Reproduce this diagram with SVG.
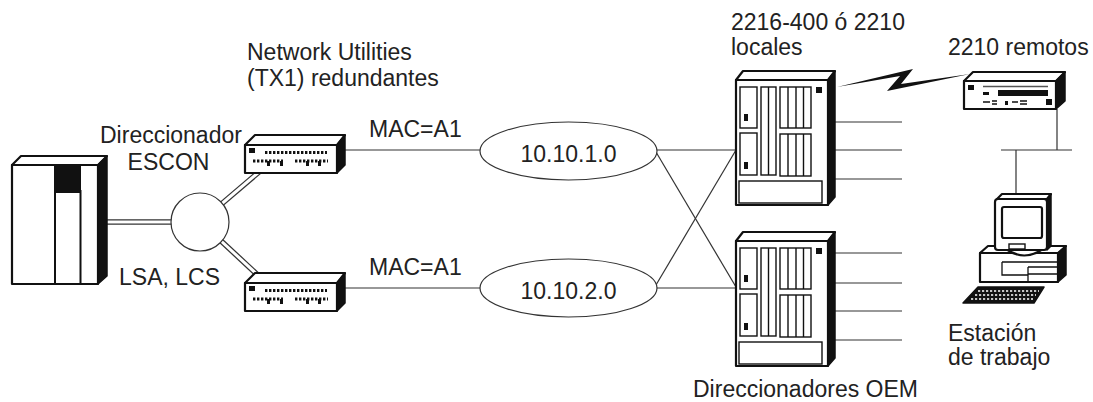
<svg xmlns="http://www.w3.org/2000/svg" xmlns:xlink="http://www.w3.org/1999/xlink" width="1093" height="402" viewBox="0 0 1093 402">
  <style>
    .t { font-family: "Liberation Sans", Arial, sans-serif; font-size: 23px; fill: #222; }
    .mid { text-anchor: middle; }
    .ln { stroke: #333; stroke-width: 1.2; fill: none; }
    .dblo { stroke: #333; stroke-width: 5.5; fill: none; }
    .dbli { stroke: #fff; stroke-width: 3; fill: none; }
    .box { fill: #fff; stroke: #111; stroke-width: 2.2; stroke-linejoin: round; }
    .thin { fill: #fff; stroke: #111; stroke-width: 1.4; }
    .dark { fill: #111; stroke: #111; stroke-width: 1.5; stroke-linejoin: round; }
    .blk { fill: #111; }
    .wh { fill: #fff; stroke: #333; stroke-width: 1.2; }
  </style>
  <defs>
    <!-- Network Utilities unit (drawn at the upper position) -->
    <g id="switchShape">
      <polygon class="box" points="245,145 255,135 345,135 337,145"/>
      <rect class="box" x="245" y="145" width="92" height="28"/>
      <polygon class="dark" points="337,145 345,135 345,165 337,173"/>
      <rect class="blk" x="249" y="148" width="6" height="5"/>
      <line x1="265" y1="152.5" x2="327" y2="152.5" stroke="#111" stroke-width="3" stroke-dasharray="2.4 1.6"/>
      <line x1="253" y1="161" x2="283" y2="161" stroke="#111" stroke-width="3" stroke-dasharray="2.4 1.6"/>
      <line x1="295" y1="161" x2="328" y2="161" stroke="#111" stroke-width="3" stroke-dasharray="2.4 1.6"/>
      <rect class="blk" x="267" y="161" width="3" height="5"/>
      <rect class="blk" x="280" y="161" width="3" height="5"/>
      <rect class="blk" x="306" y="161" width="3" height="5"/>
      <rect class="blk" x="318" y="161" width="3" height="5"/>
    </g>
    <!-- 2216 router cabinet (drawn at the upper position) -->
    <g id="routerShape">
      <polygon class="box" points="736,80 743,71 835,71 828,80"/>
      <rect class="box" x="736" y="80" width="92" height="125" stroke-width="2.6"/>
      <polygon class="dark" points="828,80 835,71 835,197 828,205"/>
      <rect class="thin" x="740" y="87" width="17" height="41"/>
      <rect class="thin" x="740" y="133" width="17" height="42"/>
      <rect class="blk" x="744" y="114" width="4" height="7"/>
      <rect class="blk" x="744" y="162" width="4" height="7"/>
      <rect class="thin" x="761" y="87" width="15" height="88"/>
      <line x1="768.5" y1="87" x2="768.5" y2="175" stroke="#111" stroke-width="1.4"/>
      <rect class="thin" x="780" y="87" width="31" height="41"/>
      <rect class="thin" x="780" y="134" width="31" height="42"/>
      <path d="M788,87V128M796,87V128M803.5,87V128M788,134V176M796,134V176M803.5,134V176" stroke="#111" stroke-width="1.4"/>
      <rect class="thin" x="739" y="181" width="83" height="22"/>
      <rect class="blk" x="816" y="87" width="6" height="6"/>
    </g>
  </defs>

  <!-- connectors -->
  <g id="connectors">
    <!-- host to ESCON director -->
    <line class="dblo" x1="105" y1="222" x2="190" y2="222"/>
    <line class="dbli" x1="105" y1="222" x2="190" y2="222"/>
    <!-- ESCON director to Network Utilities -->
    <line class="dblo" x1="205" y1="218" x2="259" y2="172"/>
    <line class="dbli" x1="205" y1="218" x2="259" y2="172"/>
    <line class="dblo" x1="205" y1="226" x2="262" y2="279"/>
    <line class="dbli" x1="205" y1="226" x2="262" y2="279"/>
    <!-- Network Utilities to subnets -->
    <line class="ln" x1="345" y1="150" x2="481" y2="150"/>
    <line class="ln" x1="345" y1="288" x2="481" y2="288"/>
    <!-- subnets to routers -->
    <line class="ln" x1="656" y1="150" x2="737" y2="150"/>
    <line class="ln" x1="656" y1="288" x2="737" y2="288"/>
    <line class="ln" x1="656" y1="152" x2="736" y2="287"/>
    <line class="ln" x1="656" y1="285" x2="736" y2="150"/>
    <!-- router ports -->
    <path class="ln" d="M835,122H902M835,150H902M835,179H902"/>
    <path class="ln" d="M835,253H902M835,283H902M835,311H902M835,340H902"/>
    <!-- WAN link -->
    <polygon fill="#111" points="837,87 913,69 901,84 970,74 887,91 900,76"/>
    <!-- remote LAN -->
    <path class="ln" d="M1057,109V150M1001,150H1072M1016,150V195"/>
  </g>

  <!-- host -->
  <g id="host">
    <polygon class="box" points="12,165 21,156 107,156 98,165"/>
    <rect class="box" x="12" y="165" width="86" height="119" stroke-width="2.6"/>
    <polygon class="dark" points="98,165 107,156 107,276 98,284"/>
    <rect class="blk" x="54" y="165" width="27" height="28"/>
    <line x1="55" y1="165" x2="55" y2="284" stroke="#111" stroke-width="2"/>
    <line x1="80.5" y1="190" x2="80.5" y2="284" stroke="#111" stroke-width="2"/>
  </g>

  <!-- ESCON director -->
  <g id="escon">
    <circle class="wh" cx="200" cy="222" r="29"/>
  </g>

  <g id="nu1"><use xlink:href="#switchShape"/></g>
  <g id="nu2"><use xlink:href="#switchShape" transform="translate(0,138)"/></g>

  <g id="net1">
    <ellipse class="wh" cx="568.5" cy="151" rx="88.5" ry="29"/>
    <text class="t mid" x="568.5" y="162">10.10.1.0</text>
  </g>
  <g id="net2">
    <ellipse class="wh" cx="568.5" cy="288" rx="88.5" ry="29"/>
    <text class="t mid" x="568.5" y="299">10.10.2.0</text>
  </g>

  <g id="router1"><use xlink:href="#routerShape"/></g>
  <g id="router2"><use xlink:href="#routerShape" transform="translate(0,161)"/></g>

  <!-- remote 2210 -->
  <g id="remote">
    <polygon class="box" points="964,81 973,72 1065,72 1056,81"/>
    <rect class="box" x="964" y="81" width="92" height="28"/>
    <polygon class="dark" points="1056,81 1065,72 1065,101 1056,109"/>
    <rect class="blk" x="968" y="85" width="6" height="5"/>
    <line x1="983" y1="86.5" x2="1048" y2="86.5" stroke="#555" stroke-width="1.5"/>
    <rect class="blk" x="998" y="90" width="50" height="6"/>
    <rect class="blk" x="983" y="92" width="6" height="3"/>
    <path d="M983,102H990M992,101H997M992,104H997M1012,102H1018M1020,101H1027M1020,104H1027" stroke="#111" stroke-width="1.6"/>
    <rect class="blk" x="1005" y="101" width="3" height="4"/>
    <rect class="blk" x="1046" y="99" width="6" height="6"/>
  </g>

  <!-- workstation -->
  <g id="station">
    <!-- system unit -->
    <polygon class="box" points="980,253 988,246 1066,246 1058,253"/>
    <rect class="box" x="980" y="253" width="78" height="29"/>
    <polygon class="dark" points="1058,253 1066,246 1066,275 1058,282"/>
    <path d="M1002,262H1058M1002,262V275H1028M1028,267V282M1028,267H1058M1028,274H1058" stroke="#111" stroke-width="1.3" fill="none"/>
    <!-- stand -->
    <path d="M1006,249 Q1024,262 1043,249" class="box"/>
    <!-- monitor -->
    <polygon class="box" points="997,199 1002,194 1051,194 1047,199"/>
    <polygon class="dark" points="1047,199 1051,194 1051,246 1047,250"/>
    <rect class="box" x="995" y="199" width="52" height="51" rx="3"/>
    <rect class="box" x="1002" y="207" width="40" height="31" rx="2" stroke-width="1.6"/>
    <rect class="thin" x="1009" y="244" width="16" height="5"/>
    <!-- keyboard -->
    <polygon class="dark" points="978,287 1044,287 1034,303 963,303"/>
    <path d="M978,291H1039M975,295H1036M971,299H1033" stroke="#fff" stroke-width="1.6" stroke-dasharray="2.2 1.8"/>
  </g>

  <!-- labels -->
  <g id="labels">
    <text class="t" x="247" y="60">Network Utilities</text>
    <text class="t" x="247" y="86">(TX1) redundantes</text>
    <text class="t" x="100" y="143">Direccionador</text>
    <text class="t mid" x="168.5" y="170">ESCON</text>
    <text class="t" x="119" y="285">LSA, LCS</text>
    <text class="t" x="369" y="137">MAC=A1</text>
    <text class="t" x="369" y="275">MAC=A1</text>
    <text class="t" x="731" y="30">2216-400 ó 2210</text>
    <text class="t" x="731" y="55">locales</text>
    <text class="t" x="948" y="55">2210 remotos</text>
    <text class="t" x="948" y="341">Estación</text>
    <text class="t" x="948" y="365">de trabajo</text>
    <text class="t" x="693" y="397">Direccionadores OEM</text>
  </g>
</svg>
